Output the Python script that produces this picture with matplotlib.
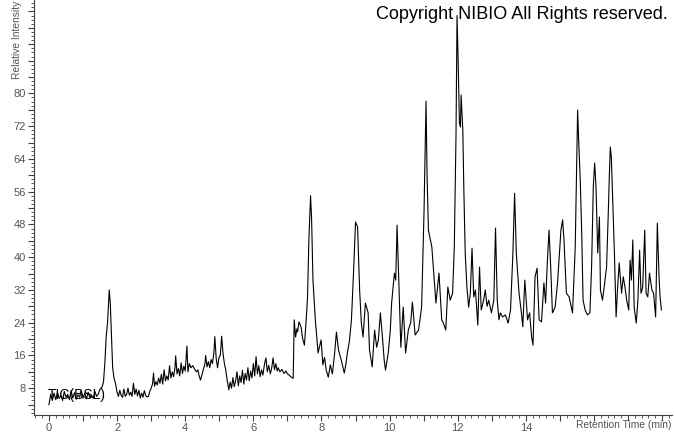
import matplotlib
matplotlib.use("Agg")
import matplotlib.pyplot as plt
from matplotlib.ticker import MultipleLocator, FuncFormatter

plt.rcParams["font.family"] = ["Liberation Sans", "DejaVu Sans"]

# Retention time (min) and relative intensity
times = [
    0.00, 0.05, 0.10, 0.15, 0.20, 0.25, 0.30, 0.35, 0.40, 0.45, 0.50, 0.55,
    0.60, 0.65, 0.70, 0.75, 0.80, 0.85, 0.90, 0.95, 1.00, 1.05, 1.10, 1.15,
    1.20, 1.25, 1.30, 1.35, 1.40, 1.45, 1.50, 1.56, 1.60, 1.64, 1.68, 1.72,
    1.77, 1.80, 1.84, 1.87, 1.91, 1.95, 2.00, 2.04, 2.08, 2.12, 2.16, 2.20,
    2.24, 2.28, 2.32, 2.36, 2.40, 2.44, 2.48, 2.52, 2.56, 2.60, 2.64, 2.68,
    2.72, 2.76, 2.80, 2.84, 2.88, 2.92, 2.96, 3.00, 3.04, 3.07, 3.10, 3.14,
    3.18, 3.22, 3.26, 3.30, 3.34, 3.38, 3.42, 3.46, 3.50, 3.54, 3.58, 3.62,
    3.66, 3.70, 3.72, 3.76, 3.80, 3.84, 3.88, 3.92, 3.96, 4.00, 4.05, 4.08,
    4.12, 4.17, 4.22, 4.28, 4.33, 4.37, 4.41, 4.45, 4.50, 4.54, 4.58, 4.60,
    4.64, 4.68, 4.72, 4.76, 4.80, 4.84, 4.87, 4.91, 4.95, 4.99, 5.03, 5.07,
    5.11, 5.15, 5.19, 5.23, 5.28, 5.32, 5.36, 5.40, 5.44, 5.48, 5.52, 5.56,
    5.60, 5.64, 5.68, 5.72, 5.76, 5.80, 5.84, 5.88, 5.92, 5.96, 6.00, 6.04,
    6.08, 6.12, 6.16, 6.20, 6.24, 6.28, 6.33, 6.37, 6.41, 6.45, 6.50, 6.54,
    6.58, 6.62, 6.66, 6.70, 6.73, 6.78, 6.84, 6.90, 6.96, 7.00, 7.05, 7.10,
    7.17, 7.20, 7.24, 7.28, 7.30, 7.34, 7.40, 7.45, 7.50, 7.55, 7.59, 7.63,
    7.68, 7.71, 7.75, 7.82, 7.90, 7.99, 8.04, 8.09, 8.14, 8.20, 8.26, 8.32,
    8.38, 8.44, 8.50, 8.58, 8.67, 8.72, 8.76, 8.82, 8.88, 8.94, 9.00, 9.06,
    9.12, 9.17, 9.22, 9.29, 9.37, 9.41, 9.49, 9.56, 9.62, 9.67, 9.73, 9.79,
    9.84, 9.88, 9.96, 10.02, 10.06, 10.14, 10.18, 10.22, 10.27, 10.33, 10.40,
    10.47, 10.55, 10.62, 10.67, 10.75, 10.85, 10.94, 11.01, 11.07, 11.10,
    11.14, 11.24, 11.29, 11.36, 11.45, 11.53, 11.58, 11.65, 11.71, 11.78,
    11.85, 11.90, 11.95, 11.98, 12.01, 12.05, 12.08, 12.10, 12.15, 12.18,
    12.22, 12.27, 12.32, 12.37, 12.42, 12.47, 12.52, 12.59, 12.64, 12.69,
    12.76, 12.81, 12.86, 12.91, 12.99, 13.06, 13.11, 13.16, 13.21, 13.25,
    13.32, 13.40, 13.48, 13.55, 13.62, 13.67, 13.72, 13.80, 13.87, 13.91,
    13.97, 14.01, 14.05, 14.11, 14.17, 14.21, 14.27, 14.33, 14.39, 14.46,
    14.53, 14.58, 14.63, 14.68, 14.73, 14.78, 14.86, 14.93, 14.98, 15.03,
    15.08, 15.12, 15.19, 15.27, 15.37, 15.45, 15.49, 15.52, 15.55, 15.60,
    15.64, 15.68, 15.74, 15.81, 15.88, 15.93, 15.98, 16.02, 16.06, 16.11,
    16.16, 16.19, 16.25, 16.30, 16.37, 16.42, 16.45, 16.48, 16.51, 16.55,
    16.60, 16.65, 16.69, 16.74, 16.81, 16.86, 16.91, 16.96, 17.02, 17.06,
    17.10, 17.14, 17.18, 17.24, 17.29, 17.34, 17.38, 17.43, 17.49, 17.53,
    17.58, 17.63, 17.70, 17.75, 17.81, 17.86, 17.91, 17.94, 17.98,
]
intensity = [
    4.0, 6.5, 5.0, 6.8, 5.2, 7.0, 5.5, 6.2, 5.0, 7.2, 5.8, 6.5,
    5.2, 7.4, 5.6, 6.9, 5.3, 6.4, 5.8, 7.5, 5.6, 6.8, 5.4, 7.0,
    5.7, 6.3, 5.5, 7.2, 6.0, 6.6, 7.8, 8.3, 9.5, 14.0, 20.5, 24.0,
    32.0, 28.8, 20.0, 13.0, 10.5, 9.3, 7.0, 6.0, 7.5, 6.2, 5.8, 7.8,
    6.0, 6.5, 8.0, 6.3, 7.0, 6.0, 9.2, 6.5, 7.8, 6.1, 7.5, 5.6,
    6.8, 5.8, 7.4, 6.2, 5.9, 6.0, 7.2, 8.0, 9.0, 11.7, 8.5, 9.6,
    8.8, 10.5, 9.2, 11.4, 9.0, 12.5, 9.8, 11.0, 10.0, 13.5, 10.5, 12.0,
    10.8, 13.0, 15.9, 11.5, 12.8, 11.0, 14.2, 11.6, 13.4, 12.2, 18.3, 12.0,
    14.0, 13.0, 13.5, 12.6, 12.0, 12.5, 11.0, 10.0, 11.5, 12.8, 14.0, 16.0,
    13.2, 14.5, 13.0, 15.0, 14.0, 16.5, 20.6, 15.2, 13.0, 15.5, 16.0, 20.7,
    16.5, 14.0, 12.5, 10.0, 7.6, 9.5, 8.0, 10.6, 8.4, 9.8, 12.0, 8.6,
    11.0, 9.4, 12.4, 9.0, 11.6, 10.0, 13.0, 9.8, 12.2, 10.5, 14.0, 11.0,
    15.7, 11.5, 13.5, 10.8, 12.5, 11.2, 14.0, 15.4, 12.0, 13.6, 11.5, 13.0,
    15.4, 12.5, 14.0, 12.2, 13.0, 12.0, 12.6, 11.6, 12.2, 11.5, 11.2, 10.8,
    10.4, 24.7, 20.5, 22.5, 21.8, 24.2, 23.0, 20.0, 18.5, 24.5, 30.0, 44.0,
    55.0, 49.5, 34.4, 24.7, 16.6, 19.8, 13.7, 15.5, 12.4, 10.7, 13.7, 11.5,
    16.0, 21.7, 17.3, 14.9, 11.7, 14.0, 16.6, 19.5, 24.7, 36.0, 48.6, 47.4,
    32.0, 24.0, 20.5, 28.8, 26.4, 17.3, 13.2, 22.2, 18.0, 19.8, 26.4, 20.5,
    15.0, 12.4, 16.6, 22.0, 28.8, 36.1, 34.4, 47.8, 34.4, 18.0, 27.8,
    16.6, 22.2, 24.0, 29.0, 21.0, 22.2, 27.8, 50.8, 78.1, 60.0,
    46.6, 42.5, 36.9, 28.8, 36.1, 24.7, 23.9, 22.2, 32.7, 29.5,
    31.2, 42.5, 70.0, 99.0, 88.9, 72.7, 71.8, 79.6, 71.0, 56.4,
    41.0, 32.7, 27.8, 31.2, 42.2, 30.3, 32.0, 23.4, 37.6, 27.1,
    29.5, 32.0, 28.0, 29.5, 26.4, 29.5, 47.1, 29.5, 24.7, 26.4,
    25.4, 25.9, 23.9, 27.1, 41.0, 55.6, 41.0, 31.2, 26.4, 23.0,
    34.4, 29.5, 24.7, 26.4, 20.5, 18.5, 35.2, 37.3, 24.7, 24.2,
    33.7, 28.8, 38.6, 46.6, 37.6, 26.4, 27.8, 33.7, 40.0, 46.6,
    49.1, 44.2, 31.2, 30.3, 26.4, 42.5, 62.0, 75.9, 68.6, 58.1,
    45.9, 29.5, 27.1, 25.9, 26.4, 37.6, 57.1, 63.0, 57.1, 41.0,
    49.8, 32.0, 29.5, 32.7, 37.6, 50.8, 59.6, 66.9, 64.4, 53.9,
    41.0, 25.4, 32.0, 38.6, 31.2, 35.2, 32.7, 29.5, 27.1, 39.3,
    34.4, 44.2, 27.8, 23.9, 29.5, 41.7, 31.2, 32.7, 46.6, 31.2,
    30.3, 36.1, 32.0, 31.2, 25.4, 48.3, 35.2, 30.3, 27.1,
]

y_labels = [8, 16, 24, 32, 40, 48, 56, 64, 72, 80]
x_labels = [0, 2, 4, 6, 8, 10, 12, 14]

fig = plt.figure(figsize=(6.74, 4.34), dpi=100)
ax = fig.add_axes([0.0504, 0.0438, 0.9466, 0.9562])
ax.plot(times, intensity, color="black", lw=0.8)

ax.set_xlim(-0.44, 18.29)
ax.set_ylim(1.46, 102.8)

for s in ("top", "right"):
    ax.spines[s].set_visible(False)
for s in ("left", "bottom"):
    ax.spines[s].set_color("#404040")
    ax.spines[s].set_linewidth(0.8)

gray = "#555555"
ax.xaxis.set_major_locator(MultipleLocator(1))
ax.xaxis.set_minor_locator(MultipleLocator(0.2))
ax.xaxis.set_major_formatter(
    FuncFormatter(lambda v, p: f"{int(round(v))}" if round(v) in x_labels and abs(v - round(v)) < 1e-6 else ""))
ax.yaxis.set_major_locator(MultipleLocator(4))
ax.yaxis.set_minor_locator(MultipleLocator(1))
ax.yaxis.set_major_formatter(
    FuncFormatter(lambda v, p: f"{int(round(v))}" if round(v) in y_labels else ""))
ax.tick_params(which="major", length=4, width=0.8, color="#404040",
               labelsize=8, labelcolor=gray, pad=2)
ax.tick_params(which="minor", length=2, width=0.6, color="#404040")

fig.text(671 / 674, 1 - 425 / 434, "Retention Time (min)", ha="right",
         va="center", fontsize=7.4, color=gray)
fig.text(0.025, 0.998, "Relative Intensity", rotation=90, ha="center", va="top",
         fontsize=7.4, color=gray)
ax.text(-0.05, 6.3, "TIC(BSL)", fontsize=10, color="black", ha="left", va="center")
fig.text(0.991, 0.967, "Copyright NIBIO All Rights reserved.", ha="right",
         va="center", fontsize=13, color="black")

fig.savefig("out.png", dpi=100)
